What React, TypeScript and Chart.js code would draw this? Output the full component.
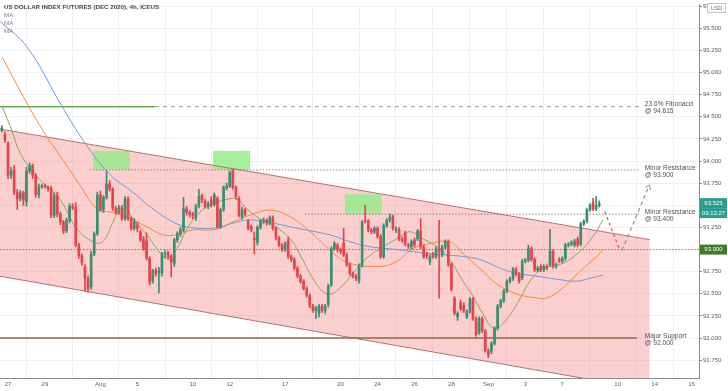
import { useEffect, useRef } from 'react';
import { Chart, registerables } from 'chart.js';

Chart.register(...registerables);

// ---------- DATA ----------
const firstIndex = -2; // bar index of first visible 4h candle (index 0 = Jul 27 00:00)

// [open, high, low, close]
const week1: number[][] = [
  [94.35, 94.40, 94.33, 94.37], [94.30, 94.33, 94.21, 94.24], [94.20, 94.22, 93.80, 93.84], [93.84, 93.93, 93.80, 93.89],
  [93.90, 93.95, 93.62, 93.65], [93.65, 93.68, 93.45, 93.57], [93.58, 93.67, 93.55, 93.64], [93.64, 93.66, 93.50, 93.56],
  [93.54, 93.93, 93.49, 93.89], [93.89, 93.98, 93.86, 93.95], [93.95, 93.97, 93.80, 93.84], [93.84, 93.86, 93.59, 93.62],
  [93.62, 93.74, 93.58, 93.71], [93.71, 93.74, 93.69, 93.72], [93.72, 93.74, 93.69, 93.71], [93.71, 93.72, 93.66, 93.69],
  [93.69, 93.72, 93.36, 93.39], [93.39, 93.64, 93.36, 93.61], [93.61, 93.65, 93.37, 93.40], [93.40, 93.42, 93.28, 93.31],
  [93.31, 93.33, 93.18, 93.21], [93.21, 93.36, 93.19, 93.33], [93.33, 93.52, 93.30, 93.49], [93.49, 93.52, 93.45, 93.48],
  [93.48, 93.53, 93.03, 93.05], [93.05, 93.07, 92.90, 92.93], [92.93, 92.95, 92.82, 92.85], [92.80, 92.83, 92.53, 92.67],
  [92.67, 92.70, 92.52, 92.56], [92.58, 92.98, 92.55, 92.95], [92.95, 93.20, 92.93, 93.18], [93.18, 93.65, 93.16, 93.62],
];
const week2: number[][] = [
  [93.62, 93.66, 93.43, 93.45], [93.45, 93.61, 93.42, 93.59], [93.59, 93.89, 93.57, 93.74], [93.74, 93.78, 93.66, 93.68],
  [93.68, 93.70, 93.44, 93.47], [93.47, 93.49, 93.40, 93.42], [93.42, 93.50, 93.40, 93.47], [93.47, 93.49, 93.33, 93.35],
  [93.35, 93.60, 93.33, 93.57], [93.57, 93.60, 93.33, 93.35], [93.35, 93.37, 93.22, 93.24], [93.24, 93.35, 93.22, 93.31],
  [93.28, 93.31, 93.20, 93.24], [93.20, 93.22, 93.09, 93.11], [93.12, 93.15, 92.99, 93.01], [93.10, 93.19, 92.88, 92.90],
  [92.90, 92.92, 92.60, 92.63], [92.65, 92.78, 92.62, 92.76], [92.76, 92.79, 92.70, 92.73], [92.73, 92.80, 92.51, 92.76],
  [92.74, 92.97, 92.70, 92.95], [92.95, 92.99, 92.91, 92.96], [92.96, 92.98, 92.89, 92.92], [92.92, 92.94, 92.69, 92.86],
  [92.84, 93.13, 92.81, 93.11], [93.11, 93.20, 93.08, 93.18], [93.18, 93.25, 93.15, 93.22], [93.22, 93.59, 93.20, 93.46],
  [93.46, 93.49, 93.39, 93.42], [93.42, 93.44, 93.37, 93.40],
];
const week3: number[][] = [
  [93.40, 93.42, 93.35, 93.38], [93.36, 93.51, 93.33, 93.49], [93.49, 93.68, 93.47, 93.60], [93.61, 93.63, 93.53, 93.56],
  [93.55, 93.57, 93.47, 93.49], [93.49, 93.54, 93.46, 93.52], [93.56, 93.60, 93.48, 93.51], [93.51, 93.64, 93.49, 93.62],
  [93.58, 93.60, 93.24, 93.26], [93.26, 93.47, 93.24, 93.45], [93.45, 93.72, 93.43, 93.70], [93.70, 93.75, 93.67, 93.72],
  [93.72, 93.89, 93.70, 93.87], [93.89, 93.91, 93.68, 93.70], [93.70, 93.72, 93.57, 93.60], [93.58, 93.60, 93.37, 93.39],
  [93.37, 93.48, 93.34, 93.45], [93.45, 93.47, 93.38, 93.40], [93.32, 93.34, 93.22, 93.24], [93.26, 93.28, 93.20, 93.22],
  [93.13, 93.20, 92.95, 93.11], [93.08, 93.27, 93.05, 93.25], [93.25, 93.34, 93.23, 93.32], [93.32, 93.36, 93.29, 93.33],
  [93.33, 93.35, 93.27, 93.30], [93.30, 93.38, 93.28, 93.36], [93.36, 93.38, 93.22, 93.24], [93.24, 93.26, 93.11, 93.13],
  [93.13, 93.15, 93.03, 93.05], [93.05, 93.07, 92.98, 93.00],
];
const week4: number[][] = [
  [93.00, 93.09, 92.98, 93.07], [93.11, 93.14, 92.90, 92.92], [92.92, 92.94, 92.86, 92.89], [92.89, 92.91, 92.77, 92.79],
  [92.79, 92.81, 92.68, 92.70], [92.70, 92.72, 92.62, 92.64], [92.64, 92.66, 92.54, 92.56], [92.56, 92.58, 92.46, 92.48],
  [92.48, 92.50, 92.34, 92.36], [92.36, 92.38, 92.29, 92.31], [92.31, 92.36, 92.22, 92.34], [92.28, 92.38, 92.24, 92.36],
  [92.36, 92.38, 92.29, 92.31], [92.31, 92.38, 92.28, 92.36], [92.38, 92.61, 92.35, 92.59], [92.60, 93.03, 92.58, 93.01],
  [93.01, 93.09, 92.99, 93.07], [93.05, 93.07, 92.97, 93.00], [93.00, 93.02, 92.95, 92.98], [93.08, 93.24, 92.92, 92.94],
  [92.94, 92.96, 92.81, 92.83], [92.83, 92.85, 92.71, 92.73], [92.73, 92.75, 92.68, 92.70], [92.70, 92.72, 92.65, 92.67],
  [92.65, 92.84, 92.62, 92.82], [92.82, 93.33, 92.80, 93.31], [93.33, 93.50, 93.30, 93.32], [93.32, 93.34, 93.20, 93.22],
  [93.22, 93.24, 93.18, 93.20], [93.20, 93.26, 93.18, 93.24],
];
const week5: number[][] = [
  [93.24, 93.26, 93.13, 93.15], [93.15, 93.17, 92.90, 92.92], [92.92, 93.29, 92.90, 93.27], [93.27, 93.35, 93.25, 93.33],
  [93.33, 93.40, 93.31, 93.37], [93.37, 93.39, 93.22, 93.24], [93.22, 93.26, 93.19, 93.23], [93.23, 93.25, 93.10, 93.12],
  [93.12, 93.14, 93.08, 93.10], [93.19, 93.21, 93.04, 93.06], [93.05, 93.07, 93.01, 93.04], [93.03, 93.11, 93.01, 93.09],
  [93.11, 93.13, 93.03, 93.05], [93.12, 93.23, 93.10, 93.21], [93.21, 93.35, 93.01, 93.03], [93.03, 93.05, 92.90, 92.92],
  [92.95, 92.97, 92.90, 92.93], [92.86, 92.94, 92.83, 92.92], [92.95, 92.97, 92.90, 92.92], [92.92, 93.03, 92.90, 93.01],
  [93.01, 93.33, 92.45, 92.98], [92.94, 93.05, 92.92, 93.03], [93.03, 93.11, 93.01, 93.09], [93.09, 93.11, 92.81, 92.83],
  [92.83, 92.85, 92.53, 92.55], [92.45, 92.47, 92.26, 92.28], [92.24, 92.30, 92.20, 92.28], [92.40, 92.43, 92.31, 92.33],
  [92.37, 92.40, 92.29, 92.31], [92.24, 92.32, 92.22, 92.30],
];
const week6: number[][] = [
  [92.30, 92.46, 92.28, 92.44], [92.44, 92.46, 92.20, 92.22], [92.22, 92.24, 92.02, 92.04], [92.06, 92.24, 92.04, 92.22],
  [92.22, 92.24, 92.06, 92.08], [92.08, 92.10, 91.84, 91.86], [91.86, 91.88, 91.78, 91.81], [91.85, 91.96, 91.82, 91.94],
  [91.94, 92.13, 91.92, 92.11], [92.11, 92.38, 92.09, 92.36], [92.36, 92.44, 92.34, 92.42], [92.42, 92.55, 92.40, 92.53],
  [92.53, 92.66, 92.51, 92.64], [92.64, 92.69, 92.62, 92.67], [92.67, 92.80, 92.65, 92.78], [92.78, 92.80, 92.70, 92.72],
  [92.72, 92.74, 92.62, 92.64], [92.68, 92.89, 92.66, 92.87], [92.87, 92.90, 92.85, 92.88], [92.88, 93.05, 92.86, 93.01],
  [93.01, 93.03, 92.87, 92.89], [92.89, 92.91, 92.75, 92.77], [92.77, 92.81, 92.75, 92.79], [92.81, 92.83, 92.75, 92.77],
  [92.77, 92.83, 92.75, 92.81], [92.81, 92.83, 92.77, 92.79], [92.83, 93.23, 92.81, 92.98], [92.98, 93.00, 92.79, 92.81],
  [92.81, 92.85, 92.79, 92.83], [92.89, 92.91, 92.85, 92.87],
];
const week7: number[][] = [
  [92.87, 92.92, 92.85, 92.90], [92.90, 93.07, 92.88, 93.05], [93.05, 93.08, 93.03, 93.06], [93.06, 93.10, 93.04, 93.08],
  [93.05, 93.12, 93.03, 93.10], [93.12, 93.14, 93.03, 93.05], [93.06, 93.31, 93.04, 93.29], [93.29, 93.34, 93.27, 93.32],
  [93.32, 93.47, 93.30, 93.45], [93.45, 93.52, 93.43, 93.50], [93.53, 93.58, 93.44, 93.46], [93.46, 93.60, 93.44, 93.50],
  [93.50, 93.55, 93.48, 93.52],
];

// Moving averages (bar index, price)
const maSlowIdx = [-2.6, 6.2, 17.9, 25.0, 33.1, 40.6, 47.1, 54.9, 60.1, 67.9, 74.4, 79.5, 87.3, 94.8, 104.5, 111.0, 117.5, 126.3, 137.0, 147.7, 153.2, 160.7, 165.3, 171.8, 178.2, 184.7, 189.0, 193.2];
const maSlowVal = [95.578, 95.288, 94.596, 94.205, 93.848, 93.647, 93.458, 93.290, 93.246, 93.246, 93.313, 93.335, 93.290, 93.234, 93.167, 93.089, 93.033, 93.000, 92.955, 92.922, 92.888, 92.777, 92.732, 92.699, 92.665, 92.643, 92.676, 92.710];
const maMidIdx = [-1.9, 3.9, 11.4, 16.9, 23.4, 28.9, 33.1, 38.6, 45.1, 50.3, 54.9, 60.1, 66.6, 73.1, 79.5, 85.1, 90.6, 97.1, 106.0, 111.0, 120.8, 126.3, 131.5, 137.0, 143.5, 147.7, 153.2, 158.8, 165.3, 171.8, 175.0, 180.2, 185.7, 191.2, 193.2];
const maMidVal = [95.176, 94.797, 94.339, 94.060, 93.725, 93.458, 93.424, 93.368, 93.257, 93.167, 93.167, 93.223, 93.223, 93.313, 93.402, 93.446, 93.391, 93.234, 92.950, 92.844, 92.810, 92.866, 93.011, 93.067, 93.089, 92.955, 92.788, 92.609, 92.498, 92.453, 92.453, 92.565, 92.754, 92.922, 93.000];
const maFastIdx = [-1.9, 1.3, 3.9, 8.8, 13.0, 16.9, 22.4, 27.6, 30.8, 34.1, 37.3, 40.6, 45.1, 48.4, 51.6, 54.9, 58.1, 62.3, 66.6, 71.1, 74.4, 77.6, 81.8, 86.0, 91.6, 94.8, 99.0, 103.6, 107.8, 115.3, 120.8, 126.3, 130.5, 134.7, 140.3, 144.5, 147.7, 151.0, 154.2, 157.5, 160.7, 165.3, 169.5, 173.7, 180.2, 185.7, 189.9, 193.2];
const maFastVal = [94.618, 94.339, 94.094, 93.848, 93.703, 93.569, 93.234, 93.089, 93.089, 93.313, 93.502, 93.346, 93.167, 93.011, 92.900, 93.011, 93.234, 93.424, 93.513, 93.569, 93.569, 93.458, 93.346, 93.279, 93.123, 92.944, 92.676, 92.498, 92.565, 92.866, 93.011, 93.123, 93.201, 93.123, 93.011, 92.833, 92.643, 92.475, 92.275, 92.118, 92.163, 92.386, 92.643, 92.788, 92.844, 92.978, 93.145, 93.335];

// Descending channel
const channelIdx = [-2.6, 208.4];
const channelUpper = [94.362, 93.112];
const channelLower = [92.699, 91.415];

// Supply zones
const zoneStart = [27.6, 66.6, 109.4];
const zoneEnd = [39.6, 78.6, 121.4];
const zoneLow = [93.9, 93.9, 93.4];
const zoneHigh = [94.115, 94.115, 93.625];

// Horizontal levels
const fibLevel = 94.615;
const fibSolidIdx = [-2.6, 47.7];
const fibDashIdx = [47.7, 205.2];
const res1Level = 93.9;
const res1Idx = [26.6, 205.2];
const res2Level = 93.4;
const res2Idx = [96.4, 205.2];
const pivotLevel = 93.0;
const pivotIdx = [-2.6, 224.4];
const supportLevel = 92.0;
const supportIdx = [-2.6, 204.2];

const levelLabelIdx = 206.8;
const levelLabels: [number, string, string][] = [
  [fibLevel, '23.6% Fibonacci', '@ 94.615'],
  [res1Level, 'Minor Resistance', '@ 93.900'],
  [res2Level, 'Minor Resistance', '@ 93.400'],
  [supportLevel, 'Major Support', '@ 92.000'],
];

// Projection path
const projDownIdx = [193.8, 198.7];
const projDownVal = [93.43, 92.99];
const projUpIdx = [199.4, 208.3];
const projUpVal = [92.99, 93.73];

const lastPrice = 93.525;
const countdown = '03:13:27';

const xTickIdx = [0, 12, 30, 42, 60, 72, 90, 108, 120, 132, 144, 156, 168, 180, 198, 210, 222];
const xTickLabels = ['27', '29', 'Aug', '5', '10', '12', '17', '20', '24', '26', '28', 'Sep', '3', '7', '10', '14', '16'];
const yTickValues = [91.75, 92.0, 92.25, 92.5, 92.75, 93.0, 93.25, 93.5, 93.75, 94.0, 94.25, 94.5, 94.75, 95.0, 95.25, 95.5, 95.75];

const title = 'US DOLLAR INDEX FUTURES (DEC 2020), 4h, ICEUS';

// ---------- STYLE ----------
const UP = '#3a8f70';
const DOWN = '#e5444c';
const FONT = '"Liberation Sans", Arial, sans-serif';

export default function App() {
  const ref = useRef<HTMLCanvasElement | null>(null);

  useEffect(() => {
    if (!ref.current) return;
    const candles = [...week1, ...week2, ...week3, ...week4, ...week5, ...week6, ...week7];
    const colors = candles.map((c) => (c[3] >= c[0] ? UP : DOWN));
    const wickData = candles.map((c, i) => ({ x: firstIndex + i, y: [c[2], c[1]] }));
    const bodyData = candles.map((c, i) => ({ x: firstIndex + i, y: [c[0], c[3]] }));
    const pts = (xs: number[], ys: number[]) => xs.map((x, i) => ({ x, y: ys[i] }));
    const flat = (xs: number[], v: number) => xs.map((x) => ({ x, y: v }));

    const line = (data: any[], color: string, width: number, dash: number[] = [], order = 15) => ({
      type: 'line',
      data,
      borderColor: color,
      borderWidth: width,
      borderDash: dash,
      pointRadius: 0,
      fill: false,
      order,
    });

    const datasets: any[] = [
      { ...line(pts(channelIdx, channelUpper), '#b86f6f', 1, [], 18) },
      {
        ...line(pts(channelIdx, channelLower), '#b86f6f', 1, [], 19),
        fill: '-1',
        backgroundColor: 'rgba(248, 140, 140, 0.42)',
      },
      line(flat(fibSolidIdx, fibLevel), '#6aa84f', 1.5),
      line(flat(fibDashIdx, fibLevel), '#9a9a9a', 1, [4, 4]),
      line(flat(res1Idx, res1Level), '#7d7a70', 1, [1.2, 2]),
      line(flat(res2Idx, res2Level), '#6f6f6f', 1, [1.2, 2]),
      line(flat(pivotIdx, pivotLevel), '#4f7f3a', 1, [1.2, 2]),
      line(flat(supportIdx, supportLevel), '#8b6a4a', 1.5),
      { ...line(pts(maSlowIdx, maSlowVal), '#6f9ad8', 1, [], 5), tension: 0.4 },
      { ...line(pts(maMidIdx, maMidVal), '#f08a3c', 1, [], 5), tension: 0.4 },
      { ...line(pts(maFastIdx, maFastVal), '#8aa65a', 1, [], 5), tension: 0.4 },
      {
        type: 'bar',
        data: wickData,
        backgroundColor: colors,
        barThickness: 1,
        grouped: false,
        order: 3,
      },
      {
        type: 'bar',
        data: bodyData,
        backgroundColor: colors,
        barThickness: 2,
        minBarLength: 1,
        grouped: false,
        order: 2,
      },
      line(pts(projDownIdx, projDownVal), '#e84a4a', 1.2, [3, 3], 1),
      line(pts(projUpIdx, projUpVal), '#86a07a', 1.2, [4, 3], 1),
    ];

    const overlay = {
      id: 'overlay',
      afterDatasetDraw(chart: any, args: any) {
        if (args.index !== 1) return;
        const { ctx, chartArea } = chart;
        const x = chart.scales.x;
        const y = chart.scales.y;
        ctx.save();
        ctx.beginPath();
        ctx.rect(chartArea.left, chartArea.top, chartArea.right - chartArea.left, chartArea.bottom - chartArea.top);
        ctx.clip();
        ctx.fillStyle = 'rgba(150, 236, 140, 0.85)';
        for (let i = 0; i < zoneStart.length; i++) {
          const x0 = x.getPixelForValue(zoneStart[i]);
          const x1 = x.getPixelForValue(zoneEnd[i]);
          const y0 = y.getPixelForValue(zoneHigh[i]);
          const y1 = y.getPixelForValue(zoneLow[i]);
          ctx.fillRect(x0, y0, x1 - x0, y1 - y0);
        }
        ctx.restore();
      },
      afterDraw(chart: any) {
        const { ctx } = chart;
        const x = chart.scales.x;
        const y = chart.scales.y;
        ctx.save();
        ctx.textBaseline = 'middle';
        // title + legend
        ctx.fillStyle = '#45484f';
        ctx.font = `600 6.2px ${FONT}`;
        ctx.textAlign = 'left';
        ctx.fillText(title, 4, 7);
        ctx.fillStyle = '#7d8088';
        ctx.font = `6.2px ${FONT}`;
        ctx.fillText('MA', 4, 15);
        ctx.fillText('MA', 4, 23);
        ctx.fillText('MA', 4, 31);

        // level labels
        ctx.fillStyle = '#50535e';
        ctx.font = `6.6px ${FONT}`;
        const lx = x.getPixelForValue(levelLabelIdx);
        for (const [lvl, a, b] of levelLabels) {
          const py = y.getPixelForValue(lvl);
          ctx.fillText(a, lx, py - 2);
          ctx.fillText(b, lx, py + 5);
        }

        // arrow head of projection
        const tx = x.getPixelForValue(projUpIdx[1]);
        const ty = y.getPixelForValue(projUpVal[1]);
        const sx = x.getPixelForValue(projUpIdx[0]);
        const sy = y.getPixelForValue(projUpVal[0]);
        const ang = Math.atan2(ty - sy, tx - sx);
        ctx.strokeStyle = '#86a07a';
        ctx.lineWidth = 1;
        ctx.beginPath();
        ctx.moveTo(tx - 5 * Math.cos(ang - 0.6), ty - 5 * Math.sin(ang - 0.6));
        ctx.lineTo(tx, ty);
        ctx.lineTo(tx - 5 * Math.cos(ang + 0.6), ty - 5 * Math.sin(ang + 0.6));
        ctx.stroke();

        // axis boxes
        const boxX = chart.chartArea.right + 1;
        const boxW = 27;
        ctx.textAlign = 'center';
        ctx.font = `6px ${FONT}`;
        const lp = y.getPixelForValue(lastPrice);
        ctx.fillStyle = '#2a9d8f';
        ctx.fillRect(boxX, lp - 5, boxW, 10);
        ctx.fillRect(boxX, lp + 5, boxW, 10);
        ctx.fillStyle = '#ffffff';
        ctx.fillText(lastPrice.toFixed(3), boxX + boxW / 2, lp);
        ctx.fillText(countdown, boxX + boxW / 2, lp + 10);
        const pp = y.getPixelForValue(pivotLevel);
        ctx.fillStyle = '#3e7a2c';
        ctx.fillRect(boxX, pp - 5, boxW, 10);
        ctx.fillStyle = '#ffffff';
        ctx.fillText(pivotLevel.toFixed(3), boxX + boxW / 2, pp);

        // USD box
        ctx.fillStyle = '#ffffff';
        ctx.fillRect(707, 3, 19, 10);
        ctx.strokeStyle = '#c3c6ce';
        ctx.strokeRect(707.5, 3.5, 18, 9);
        ctx.fillStyle = '#70737b';
        ctx.font = `5.5px ${FONT}`;
        ctx.fillText('USD', 716.5, 8.2);
        ctx.restore();
      },
    };

    const chart = new Chart(ref.current, {
      type: 'line',
      data: { datasets },
      options: {
        animation: false,
        responsive: false,
        events: [],
        layout: { padding: 0 },
        plugins: {
          legend: { display: false },
          tooltip: { enabled: false },
          title: { display: false },
        },
        scales: {
          x: {
            type: 'linear',
            min: -2.6,
            max: 224.4,
            offset: false,
            afterBuildTicks: (s: any) => {
              s.ticks = xTickIdx.map((v) => ({ value: v }));
            },
            afterFit: (s: any) => {
              s.height = 13;
            },
            ticks: {
              autoSkip: false,
              maxRotation: 0,
              padding: 3,
              color: '#5a5d66',
              font: { size: 6, family: FONT },
              callback: (_v: any, i: number) => xTickLabels[i],
            },
            grid: { color: '#eef0f4', drawTicks: false },
            border: { display: true, color: '#8c8c8c' },
          },
          y: {
            type: 'linear',
            position: 'right',
            min: 91.549,
            max: 95.768,
            afterBuildTicks: (s: any) => {
              s.ticks = yTickValues.map((v) => ({ value: v }));
            },
            afterFit: (s: any) => {
              s.width = 29;
            },
            ticks: {
              padding: 1,
              color: '#5a5d66',
              font: { size: 6, family: FONT },
              callback: (v: any) => Number(v).toFixed(3),
            },
            grid: { color: '#eef0f4', tickLength: 3, tickColor: '#8c8c8c' },
            border: { display: true, color: '#8c8c8c' },
          },
        },
      } as any,
      plugins: [overlay as any],
    } as any);

    return () => chart.destroy();
  }, []);

  return (
    <div style={{ position: 'absolute', left: 0, top: 0, width: 728, height: 391, background: '#ffffff' }}>
      <canvas ref={ref} width={728} height={391} style={{ display: 'block' }} />
    </div>
  );
}
